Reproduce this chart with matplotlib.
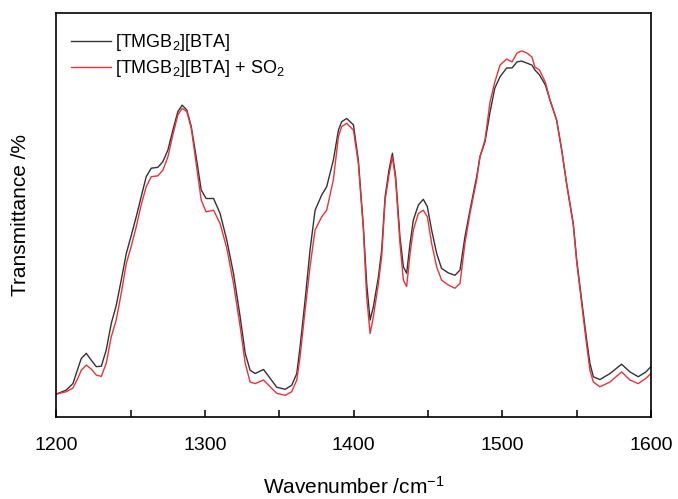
import numpy as np
import matplotlib
matplotlib.use('Agg')
import matplotlib.pyplot as plt
from matplotlib.ticker import MultipleLocator

plt.rcParams['font.family'] = ['Liberation Sans', 'DejaVu Sans']
plt.rcParams['mathtext.default'] = 'regular'

# espectros (numero de onda, transmitancia arbitraria)
wavenumber = [1200, 1206.7, 1211.2, 1214.6, 1216.8, 1220.2, 1223.5, 1226.9, 1230.3, 1233.6,
              1237, 1240.3, 1243.7, 1247.1, 1250.4, 1253.8, 1257.1, 1260.5, 1263.9, 1268.3,
              1271.7, 1275.1, 1278.4, 1281.8, 1284.7, 1287.8, 1290.8, 1294.1, 1297.5, 1300.8,
              1305.8, 1310.2, 1314.7, 1319.2, 1323.7, 1327.1, 1330.4, 1333.8, 1339.4, 1343.9,
              1348.3, 1354, 1358.4, 1361.8, 1364, 1367.4, 1370.7, 1374.1, 1378.6, 1381.9,
              1386.4, 1389.8, 1392, 1395.4, 1399.9, 1403.2, 1406.6, 1408.8, 1411.1, 1413.3,
              1416.7, 1418.9, 1421.2, 1423.8, 1426.1, 1428.3, 1431.2, 1433.5, 1435.7, 1438,
              1440.2, 1443.6, 1446.9, 1449.6, 1452.5, 1455.9, 1459.2, 1463.7, 1468.2, 1471.6,
              1474.9, 1478.3, 1482.8, 1485, 1488.4, 1491.8, 1495, 1498.5, 1503, 1506.6,
              1510, 1513, 1516.6, 1520, 1522, 1525, 1529, 1532.1, 1536.6, 1540,
              1543.3, 1547.8, 1550.1, 1553.4, 1556.8, 1559, 1561.3, 1565.7, 1572.5, 1580.3,
              1585.9, 1591.5, 1596.7, 1600]

t_ionic = [5.7, 6.7, 8.3, 12.1, 14.5, 15.8, 14.1, 12.5, 12.6, 16.6,
           23.2, 27.6, 33.9, 40.5, 44.9, 49.6, 54.5, 59.5, 61.6, 61.8,
           63.2, 66.1, 71.0, 75.6, 77.2, 76.0, 71.9, 64.4, 56.2, 54.1,
           54.1, 50.4, 43.8, 35.6, 24.8, 15.8, 11.6, 10.8, 11.8, 9.6,
           7.4, 6.9, 7.9, 10.8, 17.4, 29.0, 41.3, 51.2, 55.0, 57.0,
           63.6, 71.0, 73.1, 73.9, 72.3, 63.6, 47.1, 33.1, 24.0, 27.3,
           34.7, 41.3, 54.5, 61.1, 65.3, 59.5, 44.6, 37.2, 35.6, 43.0,
           48.8, 52.5, 53.9, 52.1, 46.3, 40.5, 36.8, 35.7, 35.1, 36.4,
           44.6, 51.2, 59.5, 64.4, 68.1, 75.5, 81.4, 84.2, 86.4, 86.4,
           87.9, 88.1, 87.6, 87.1, 85.9, 84.7, 82.2, 78.5, 73.5, 66.1,
           57.8, 47.9, 38.9, 29.0, 19.1, 13.3, 10.0, 9.3, 10.8, 13.1,
           11.2, 10.0, 11.2, 12.5]

t_ionic_so2 = [5.7, 6.3, 7.2, 9.7, 11.6, 12.9, 11.9, 10.4, 10.1, 13.3,
               19.9, 24.0, 30.6, 38.0, 42.2, 47.1, 52.5, 57.0, 59.5, 59.7,
               61.1, 64.4, 69.8, 74.8, 76.4, 75.6, 71.5, 62.8, 53.7, 50.8,
               51.2, 47.9, 41.8, 33.1, 22.4, 13.3, 8.7, 8.3, 9.2, 7.5,
               5.9, 5.4, 6.3, 9.2, 14.9, 26.5, 37.2, 46.3, 49.6, 51.2,
               58.7, 69.4, 71.9, 72.7, 71.0, 62.8, 46.3, 29.8, 20.7, 24.8,
               33.1, 39.7, 53.7, 59.9, 64.4, 58.7, 43.0, 33.9, 32.3, 40.5,
               46.3, 50.4, 51.2, 49.6, 43.0, 37.2, 33.9, 32.7, 31.9, 33.1,
               43.0, 50.4, 58.7, 64.4, 68.6, 78.0, 82.9, 87.1, 88.6, 87.9,
               90.1, 90.6, 90.1, 89.1, 86.6, 85.9, 82.9, 78.5, 73.5, 66.1,
               57.8, 47.5, 38.4, 28.2, 17.8, 11.6, 8.7, 7.5, 8.7, 11.2,
               9.2, 8.3, 9.6, 10.8]

etiquetas = ['[TMGB$_2$][BTA]', '[TMGB$_2$][BTA] + SO$_2$']

fig = plt.figure(figsize=(6.78, 4.99), dpi=100)
ax = fig.add_axes([0.083, 0.164, 0.877, 0.81])

ax.plot(wavenumber, t_ionic, color='#333333', lw=1.0, label=etiquetas[0])
ax.plot(wavenumber, t_ionic_so2, color='#e8333a', lw=1.0, label=etiquetas[1])

ax.set_xlim(1200, 1600)
ax.set_ylim(0, 100)
ax.xaxis.set_major_locator(MultipleLocator(100))
ax.xaxis.set_minor_locator(MultipleLocator(50))
ax.tick_params(axis='x', which='both', direction='in', length=5, width=1.1,
               labelsize=14, pad=14)
ax.set_yticks([])
for s in ax.spines.values():
    s.set_linewidth(1.2)

ax.set_xlabel('Wavenumber /cm$^{-1}$', fontsize=15, labelpad=16)
ax.set_ylabel('Transmittance /%', fontsize=15, labelpad=19)

ax.legend(loc='upper left', bbox_to_anchor=(0.007, 0.98), frameon=False,
          fontsize=13, handlelength=2.2, handletextpad=0.2,
          borderaxespad=0.2, labelspacing=0.3)

plt.savefig('out.png', dpi=100)
